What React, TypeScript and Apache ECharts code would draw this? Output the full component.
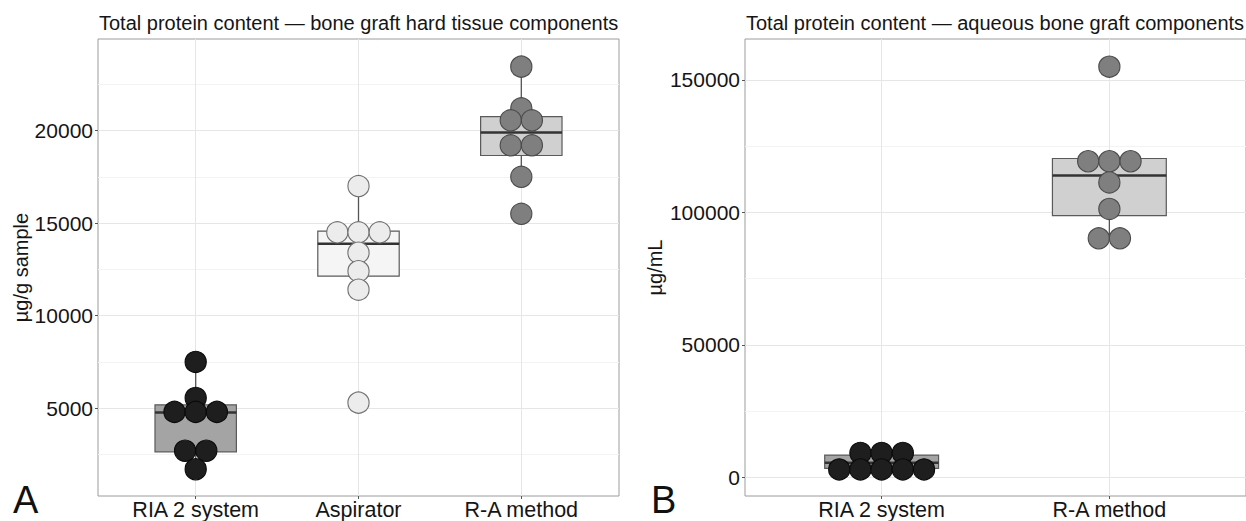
import React, { useEffect, useRef } from "react";
import * as echarts from "echarts";

// ---------- data ----------
const CATS_A = ["RIA 2 system", "Aspirator", "R-A method"];
const CATS_B = ["RIA 2 system", "R-A method"];

const TITLE_A = "Total protein content \u2014 bone graft hard tissue components";
const TITLE_B = "Total protein content \u2014 aqueous bone graft components";
const YNAME_A = "\u00b5g/g sample";
const YNAME_B = "\u00b5g/mL";

// individual samples (dot plot), panel A
const A_RIA = [7500, 5550, 4800, 4800, 4800, 2700, 2700, 1700];
const A_ASP = [17000, 14500, 14500, 14500, 13400, 12400, 11400, 5300];
const A_RA = [23450, 21200, 20550, 20550, 19200, 19200, 17500, 15500];
// panel B
const B_RIA = [9200, 9200, 9200, 3000, 3000, 3000, 3000, 3000];
const B_RA = [155000, 119300, 119300, 119300, 111300, 101300, 90200, 90200];

// box statistics: [whisker low, Q1, median, Q3, whisker high]
const BOX_A_RIA = [1700, 2645, 4770, 5180, 7500];
const BOX_A_ASP = [11400, 12130, 13880, 14560, 17000];
const BOX_A_RA = [17500, 18650, 19890, 20750, 23450];
const BOX_B_RIA = [2900, 3400, 5500, 8400, 9200];
const BOX_B_RA = [90200, 98760, 113940, 120340, 120340];

// axis ticks
const Y_TICKS_A = [5000, 10000, 15000, 20000];
const Y_MINOR_A = [2500, 7500, 12500, 17500, 22500];
const Y_TICKS_B = [0, 50000, 100000, 150000];
const Y_MINOR_B = [25000, 75000, 125000];
const Y_RANGE_A = [256, 24943];
const Y_RANGE_B = [-7040, 165440];

// ---------- styles ----------
const FONT = "'Liberation Sans', Arial, Helvetica, sans-serif";
const TXT = "#151515";
const GRID_MAJOR = "#e6e6e6";
const GRID_MINOR = "#f3f3f3";
const BORDER = "#9c9c9c";
const DOT_R = 10.6;

const STYLE_RIA = { dot: "#1e1e1e", dotStroke: "#0a0a0a", box: "#a4a4a4" };
const STYLE_ASP = { dot: "#ececec", dotStroke: "#6f6f6f", box: "#f5f5f5" };
const STYLE_RA = { dot: "#7f7f7f", dotStroke: "#4a4a4a", box: "#d0d0d0" };

function slots(vals: number[]): number[] {
  const counts: Record<string, number> = {};
  vals.forEach((v) => (counts[v] = (counts[v] || 0) + 1));
  const seen: Record<string, number> = {};
  return vals.map((v) => {
    const i = (seen[v] = (seen[v] === undefined ? -1 : seen[v]) + 1);
    return i - (counts[v] - 1) / 2;
  });
}

function boxSeries(axis: number, items: { x: number; stats: number[]; fill: string }[]) {
  return {
    type: "custom",
    xAxisIndex: axis,
    yAxisIndex: axis * 2,
    encode: { x: 0, y: [1, 2, 3, 4, 5] },
    z: 2,
    data: items.map((it) => ({ value: [it.x, ...it.stats], itemStyle: { color: it.fill } })),
    renderItem: (params: any, api: any) => {
      const x = api.value(0);
      const mn = api.value(1);
      const q1 = api.value(2);
      const md = api.value(3);
      const q3 = api.value(4);
      const mx = api.value(5);
      const half = 0.25;
      const pL = api.coord([x - half, q3]);
      const pR = api.coord([x + half, q1]);
      const pMin = api.coord([x, mn]);
      const pMax = api.coord([x, mx]);
      const pQ1 = api.coord([x, q1]);
      const pQ3 = api.coord([x, q3]);
      const pMd = api.coord([x, md]);
      const fill = api.visual("color");
      return {
        type: "group",
        children: [
          { type: "line", shape: { x1: pMax[0], y1: pMax[1], x2: pQ3[0], y2: pQ3[1] }, style: { stroke: "#555", lineWidth: 1.3 } },
          { type: "line", shape: { x1: pMin[0], y1: pMin[1], x2: pQ1[0], y2: pQ1[1] }, style: { stroke: "#555", lineWidth: 1.3 } },
          {
            type: "rect",
            shape: { x: pL[0], y: pL[1], width: pR[0] - pL[0], height: pR[1] - pL[1] },
            style: { fill, stroke: "#5a5a5a", lineWidth: 1.2 },
          },
          { type: "line", shape: { x1: pL[0], y1: pMd[1], x2: pR[0], y2: pMd[1] }, style: { stroke: "#333", lineWidth: 2.4 } },
        ],
      };
    },
  };
}

function dotSeries(axis: number, x: number, vals: number[], st: { dot: string; dotStroke: string }) {
  const sl = slots(vals);
  return {
    type: "custom",
    xAxisIndex: axis,
    yAxisIndex: axis * 2,
    encode: { x: 0, y: 1 },
    z: 3,
    data: vals.map((v, i) => [x, v, sl[i]]),
    renderItem: (params: any, api: any) => {
      const p = api.coord([api.value(0), api.value(1)]);
      const cx = p[0] + api.value(2) * DOT_R * 2;
      return {
        type: "circle",
        shape: { cx, cy: p[1], r: DOT_R },
        style: { fill: st.dot, stroke: st.dotStroke, lineWidth: 1.1 },
      };
    },
  };
}

function xAxis(grid: number, cats: string[]) {
  const vals = cats.map((_, i) => i + 1);
  return {
    type: "value",
    gridIndex: grid,
    position: "bottom",
    min: 0.4,
    max: cats.length + 0.6,
    axisLine: { show: false, onZero: false },
    axisTick: { show: true, length: 3, customValues: vals, lineStyle: { color: "#555", width: 1 } },
    axisLabel: {
      customValues: vals,
      formatter: (v: number) => cats[Math.round(v) - 1] || "",
      fontSize: 21.5,
      color: TXT,
      fontFamily: FONT,
      margin: 3,
    },
    splitLine: { show: true, lineStyle: { color: GRID_MAJOR, width: 1 } },
  };
}

function yAxes(grid: number, range: number[], ticks: number[], minor: number[], name: string, gap: number) {
  return [
    {
      type: "value",
      gridIndex: grid,
      position: "left",
      min: range[0],
      max: range[1],
      name,
      nameLocation: "middle",
      nameGap: gap,
      nameTextStyle: { fontSize: 20, color: TXT, fontFamily: FONT },
      axisLine: { show: false, onZero: false },
      axisTick: { show: true, length: 3, customValues: ticks, lineStyle: { color: "#555", width: 1 } },
      axisLabel: {
        customValues: ticks,
        formatter: (v: number) => String(v),
        fontSize: 21,
        color: TXT,
        fontFamily: FONT,
        margin: 5,
      },
      splitLine: { show: true, lineStyle: { color: GRID_MAJOR, width: 1 } },
    },
    {
      type: "value",
      gridIndex: grid,
      position: "right",
      min: range[0],
      max: range[1],
      axisLine: { show: false, onZero: false },
      axisTick: { show: false, customValues: minor },
      axisLabel: { show: false, customValues: minor },
      splitLine: { show: true, lineStyle: { color: GRID_MINOR, width: 1 } },
      z: 0,
    },
  ];
}

export default function App() {
  const ref = useRef<HTMLDivElement>(null);
  useEffect(() => {
    if (!ref.current) return;
    const chart = echarts.init(ref.current, undefined, { renderer: "svg" });
    const option: any = {
      animation: false,
      backgroundColor: "#ffffff",
      textStyle: { fontFamily: FONT },
      grid: [
        { left: 98, top: 39, width: 521, height: 458, show: true, borderColor: BORDER, borderWidth: 1, backgroundColor: "transparent" },
        { left: 745, top: 39, width: 506, height: 458, show: true, borderColor: BORDER, borderWidth: 1, backgroundColor: "transparent" },
      ],
      xAxis: [xAxis(0, CATS_A), xAxis(1, CATS_B)],
      yAxis: [
        ...yAxes(0, Y_RANGE_A, Y_TICKS_A, Y_MINOR_A, YNAME_A, 66),
        ...yAxes(1, Y_RANGE_B, Y_TICKS_B, Y_MINOR_B, YNAME_B, 80),
      ],
      graphic: [
        { type: "text", x: 99, y: 23, style: { text: TITLE_A, fontSize: 20, fill: TXT, fontFamily: FONT, verticalAlign: "middle", align: "left" } },
        { type: "text", x: 746, y: 23, style: { text: TITLE_B, fontSize: 20, fill: TXT, fontFamily: FONT, verticalAlign: "middle", align: "left" } },
        { type: "text", x: 13, y: 500, style: { text: "A", fontSize: 38, fill: "#111", fontFamily: FONT, verticalAlign: "middle", align: "left" } },
        { type: "text", x: 651, y: 500, style: { text: "B", fontSize: 38, fill: "#111", fontFamily: FONT, verticalAlign: "middle", align: "left" } },
      ],
      series: [
        boxSeries(0, [
          { x: 1, stats: BOX_A_RIA, fill: STYLE_RIA.box },
          { x: 2, stats: BOX_A_ASP, fill: STYLE_ASP.box },
          { x: 3, stats: BOX_A_RA, fill: STYLE_RA.box },
        ]),
        dotSeries(0, 1, A_RIA, STYLE_RIA),
        dotSeries(0, 2, A_ASP, STYLE_ASP),
        dotSeries(0, 3, A_RA, STYLE_RA),
        boxSeries(1, [
          { x: 1, stats: BOX_B_RIA, fill: STYLE_RIA.box },
          { x: 2, stats: BOX_B_RA, fill: STYLE_RA.box },
        ]),
        dotSeries(1, 1, B_RIA, STYLE_RIA),
        dotSeries(1, 2, B_RA, STYLE_RA),
      ],
    };
    chart.setOption(option);
    return () => chart.dispose();
  }, []);
  return (
    <div
      ref={ref}
      style={{ position: "fixed", left: 0, top: 0, width: 1246, height: 521, background: "#fff" }}
    />
  );
}
